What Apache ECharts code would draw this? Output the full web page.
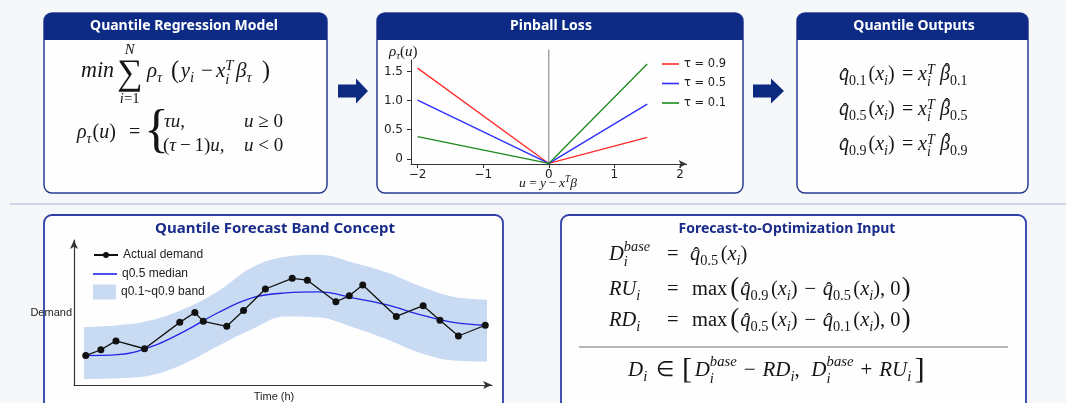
<!DOCTYPE html>
<html>
<head>
<meta charset="utf-8">
<script src="https://cdn.jsdelivr.net/npm/echarts@6/dist/echarts.min.js"></script>
<style>
  html, body { margin: 0; padding: 0; background: #f6f7f9; }
  #chart { width: 1066px; height: 403px; }
</style>
</head>
<body>
<div id="chart"></div>
<script>
// ---- Pinball loss panel ----
const pinballSeriesNames = ['τ = 0.9', 'τ = 0.5', 'τ = 0.1'];
const pinballU = [-2, 0, 1.5];
const pinballRed = [1.56, -0.08, 0.37];
const pinballBlue = [1.01, -0.08, 0.94];
const pinballGreen = [0.38, -0.08, 1.63];
const pinballXTicks = [-2, -1, 0, 1, 2];
const pinballYTicks = [0, 0.5, 1.0, 1.5];

// ---- Quantile forecast band panel ----
const bandHours = [0, 2, 4, 6, 8, 10, 12, 14, 16, 18, 20, 22, 24];
const bandLower = [4.1, 4.7, 6.8, 14.9, 27.0, 38.5, 47.3, 46.6, 39.9, 31.8, 22.3, 16.9, 16.2];
const bandUpper = [39.9, 41.2, 44.6, 52.7, 64.9, 81.1, 88.5, 89.9, 84.5, 77.7, 68.2, 60.8, 58.8];
const medianQ50 = [20.3, 20.9, 26.4, 37.2, 50.0, 60.1, 63.5, 64.2, 60.1, 55.4, 48.6, 43.2, 41.2];
const demandHours = [0.1, 1.0, 1.9, 3.6, 5.7, 6.6, 7.1, 8.5, 9.5, 10.8, 12.4, 13.3, 15.0, 15.8, 16.6, 18.6, 20.2, 21.2, 22.3, 23.9];
const demandValues = [20.3, 24.3, 30.4, 25.0, 43.2, 50.0, 43.9, 40.5, 51.4, 66.2, 73.6, 72.3, 57.4, 61.5, 68.9, 47.3, 54.7, 44.6, 33.8, 41.2];

// ---- panel titles ----
const headerTitles = ['Quantile Regression Model', 'Pinball Loss', 'Quantile Outputs'];
const lowerTitles = ['Quantile Forecast Band Concept', 'Forecast-to-Optimization Input'];

// ================= math typesetting helpers =================
const SERIF = '"Liberation Serif", "Times New Roman", serif';
const INK = '#161616';
const PANEL = '#fefefe';
const BASE_MID = 0.34;   // distance (em) from the em-box middle down to the baseline
const measureCtx = document.createElement('canvas').getContext('2d');
function fontOf(size, ital) { return (ital ? 'italic ' : '') + size.toFixed(2) + 'px ' + SERIF; }
function textWidth(t, size, ital) { measureCtx.font = fontOf(size, ital); return measureCtx.measureText(t).width; }
function txt(t, x, yb, size, ital, align) {
  return {
    type: 'text', x: x, y: yb - BASE_MID * size, z: 20, silent: true,
    style: {
      text: t, font: fontOf(size, ital), fill: INK,
      align: align || 'left', textAlign: align || 'left',
      verticalAlign: 'middle', textVerticalAlign: 'middle'
    }
  };
}
function I(t, o) { return Object.assign({ t: t, i: true }, o || {}); }
function R(t, o) { return Object.assign({ t: t, i: false }, o || {}); }
const qh = (n, o) => I('q', Object.assign({ hat: true, sub: [R(n)] }, o || {}));
const xi = (o) => I('x', Object.assign({ sub: [I('i')] }, o || {}));

// lays out a row of math tokens; returns the x where the row ends
function mrow(items, x, yb, size, out) {
  for (const it of items) {
    if (it.at !== undefined) x = it.at;
    x += (it.pre || 0) * size;
    const s = size * (it.s || 1);
    const y0 = yb + (it.dy || 0) * size;
    const w = textWidth(it.t, s, it.i);
    out.push(txt(it.t, x, y0, s, it.i));
    if (it.hat) out.push(txt('ˆ', x + w / 2 + (it.hx || 0.06) * size, yb - (it.hy || 0) * size, size * 0.95, false, 'center'));
    const ss = size * 0.7;
    if (it.over) { const ow = mrow(it.over, 0, 0, ss, []); mrow(it.over, x + (w - ow) / 2, yb - it.oy * size, ss, out); }
    if (it.under) { const uw = mrow(it.under, 0, 0, ss, []); mrow(it.under, x + (w - uw) / 2, yb + it.uy * size, ss, out); }
    let sw = 0;
    const sx = x + w + (it.k || 0) * size;
    if (it.sub) sw = Math.max(sw, mrow(it.sub, sx, yb + (it.sup ? 0.27 : 0.2) * size, ss, out) - sx);
    if (it.sup) sw = Math.max(sw, mrow(it.sup, sx + (it.supk || 0) * size, yb - (it.su || 0.36) * size, ss, out) - sx);
    x = x + w + (sw ? (it.k || 0) * size + sw : 0) + (it.post || 0) * size;
  }
  return x;
}

const g = [];   // graphic elements

// ---------- panel frames ----------
const NAVY = '#0d2b85';
function frame(x, y, w, h, stroke, lw) {
  g.push({ type: 'rect', z: 0, silent: true, shape: { x: x, y: y, width: w, height: h, r: 8 },
    style: { fill: PANEL, stroke: stroke, lineWidth: lw } });
}
function header(x, y, w, h, title, cx) {
  g.push({ type: 'rect', z: 1, silent: true, shape: { x: x, y: y, width: w, height: h, r: [8, 8, 0, 0] }, style: { fill: NAVY } });
  g.push({ type: 'text', z: 2, silent: true, x: cx, y: y + h / 2,
    style: { text: title, font: 'bold 14px "Noto Sans", "Open Sans", sans-serif', fill: '#ffffff',
      align: 'center', textAlign: 'center', verticalAlign: 'middle', textVerticalAlign: 'middle' } });
}
frame(44, 13, 283, 180, '#2b3b90', 1.5);
frame(377, 13, 366, 180, '#2b3b90', 1.5);
frame(797, 13, 231, 180, '#2b3b90', 1.5);
header(44, 13, 283, 27, headerTitles[0], 184);
header(377, 13, 366, 27, headerTitles[1], 551);
header(797, 13, 231, 27, headerTitles[2], 914);

frame(44, 215, 459, 230, '#2e3ea8', 1.8);
frame(561, 215, 465, 230, '#2e3ea8', 1.8);
function lowerTitle(t, cx, size) {
  g.push({ type: 'text', z: 2, silent: true, x: cx, y: 229,
    style: { text: t, font: 'bold ' + size + 'px "Noto Sans", "Open Sans", sans-serif', fill: '#1a2c8a',
      align: 'center', textAlign: 'center', verticalAlign: 'middle', textVerticalAlign: 'middle' } });
}
lowerTitle(lowerTitles[0], 275, 15);
lowerTitle(lowerTitles[1], 787, 14);

// separator between the two rows of panels
g.push({ type: 'line', z: 0, silent: true, shape: { x1: 10, y1: 204, x2: 1066, y2: 204 }, style: { stroke: '#a6b0d2', lineWidth: 1 } });

// flow arrows
function arrow(x0, xh, xt, cy) {
  g.push({ type: 'polygon', z: 1, silent: true,
    shape: { points: [[x0, cy - 6.5], [xh, cy - 6.5], [xh, cy - 12.5], [xt, cy], [xh, cy + 12.5], [xh, cy + 6.5], [x0, cy + 6.5]] },
    style: { fill: '#0b2a80' } });
}
arrow(338, 356, 368, 91);
arrow(753, 771, 784, 91);

// ---------- formulas: quantile regression model ----------
mrow([
  I('min', { at: 81, s: 1.05 }),
  R('∑', { at: 117, s: 1.7, dy: 0.38, over: [I('N')], oy: 1.15, under: [I('i'), R('=1')], uy: 1.22 }),
  I('ρ', { at: 147, sub: [I('τ')] }),
  R('(', { at: 171, s: 1.15, dy: 0.03 }),
  I('y', { pre: 0.08, sub: [I('i')] }),
  R('−', { at: 201 }),
  I('x', { at: 216, sub: [I('i')], sup: [I('T')] }),
  I('β', { at: 236, sub: [I('τ')] }),
  R(')', { at: 262, s: 1.15, dy: 0.03 })
], 0, 79, 21, g);

mrow([
  I('ρ', { at: 77, sub: [I('τ')] }), R('(', { pre: 0.05 }), I('u'), R(')'),
  R('=', { at: 129 }),
  R('{', { at: 144, s: 2.6, dy: 0.5 })
], 0, 140, 20, g);
mrow([I('τ', { at: 164 }), I('u'), R(','), I('u', { at: 244 }), R('≥', { pre: 0.25, post: 0.25 }), R('0')], 0, 128, 19, g);
mrow([R('(', { at: 163 }), I('τ'), R('−', { pre: 0.2, post: 0.2 }), R('1'), R(')'), I('u'), R(','),
  I('u', { at: 244 }), R('<', { pre: 0.25, post: 0.25 }), R('0')], 0, 152, 19, g);

// ---------- formulas: quantile outputs ----------
['0.1', '0.5', '0.9'].forEach((q, k) => {
  mrow([
    qh(q, { at: 839 }), R('(', { pre: 0.1 }), xi(), R(')'),
    R('=', { at: 902 }),
    I('x', { at: 918, sub: [I('i')], sup: [I('T')] }),
    I('β', { at: 940, hat: true, hy: 0.22, hx: 0.1, sub: [R(q)] })
  ], 0, 82 + 35 * k, 20, g);
});

// ---------- pinball axis captions ----------
mrow([I('ρ', { at: 389, sub: [I('τ')] }), R('('), I('u'), R(')')], 0, 57, 15, g);
mrow([I('u', { at: 519 }), R('=', { pre: 0.25, post: 0.25 }), I('y'), R('−', { pre: 0.2, post: 0.2 }),
  I('x', { sup: [I('T')] }), I('β')], 0, 188, 13.5, g);

// ---------- formulas: forecast-to-optimization input ----------
const Dbase = (o) => I('D', Object.assign({ sub: [I('i')], sup: [I('base')], su: 0.5 }, o || {}));
const OP = { pre: 0.33, post: 0.33 };
mrow([Dbase({ at: 609 }), R('=', { at: 667 }), qh('0.5', { at: 690 }), R('(', { pre: 0.12 }), xi(), R(')')], 0, 262, 20.5, g);
function maxRow(name, qa, qb, yb) {
  mrow([I('R', { at: 609 }), I(name, { sub: [I('i')] }), R('=', { at: 667 }), R('max', { at: 692 }),
    R('(', { s: 1.3, dy: 0.07, pre: 0.15, post: 0.05 }), qh(qa), R('(', { pre: 0.12 }), xi(), R(')'),
    R('−', OP), qh(qb), R('(', { pre: 0.12 }), xi(), R(')'), R(',', { post: 0.05 }), R('0', { pre: 0.2 }),
    R(')', { s: 1.3, dy: 0.07, pre: 0.06 })], 0, yb, 20.5, g);
}
maxRow('U', '0.9', '0.5', 297);
maxRow('D', '0.5', '0.1', 328);
g.push({ type: 'line', z: 2, silent: true, shape: { x1: 579, y1: 347, x2: 1008, y2: 347 }, style: { stroke: '#6f6f6f', lineWidth: 1 } });
mrow([I('D', { at: 628, sub: [I('i')] }), R('∈', { pre: 0.4, post: 0.4 }), R('[', { s: 1.45, dy: 0.1, post: 0.12 }),
  Dbase(), R('−', OP), I('R'), I('D', { sub: [I('i')] }), R(',', { post: 0.1 }),
  Dbase({ pre: 0.45 }), R('+', OP), I('R'), I('U', { sub: [I('i')] }),
  R(']', { s: 1.45, dy: 0.1, pre: 0.15 })], 0, 378, 21, g);

// ================= charts =================
const zip = (xs, ys) => xs.map((x, i) => [x, ys[i]]);
const AX = '#333333';
const pinLine = (name, ys, color) => ({
  name: name, type: 'line', xAxisIndex: 0, yAxisIndex: 0, data: zip(pinballU, ys),
  symbol: 'none', color: color, lineStyle: { color: color, width: 1.3 }, z: 5, silent: true
});
const legendText = { fontFamily: 'Liberation Sans', fontSize: 12, color: '#222', lineHeight: 14 };

const option = {
  animation: false,
  backgroundColor: '#f6f7f9',
  grid: [
    { left: 411, top: 60, width: 275.6, height: 104, containLabel: false },
    { left: 74, top: 240, width: 418, height: 148, containLabel: false }
  ],
  xAxis: [
    { gridIndex: 0, type: 'value', min: -2.1, max: 2.1, z: 4,
      axisLine: { show: true, onZero: false, symbol: ['none', 'arrow'], symbolSize: [6, 8], lineStyle: { color: AX, width: 1 } },
      axisTick: { show: true, customValues: pinballXTicks, length: 4, lineStyle: { color: AX } },
      axisLabel: { customValues: pinballXTicks, margin: 5, fontFamily: 'DejaVu Sans', fontSize: 12, color: '#222',
        formatter: v => (v < 0 ? '−' : '') + Math.abs(v) },
      splitLine: { show: false } },
    { gridIndex: 1, type: 'value', min: -0.6, max: 24.3, z: 4,
      axisLine: { show: true, onZero: false, symbol: ['none', 'arrow'], symbolSize: [6, 9], lineStyle: { color: AX, width: 1.2 } },
      axisTick: { show: false }, axisLabel: { show: false }, splitLine: { show: false },
      name: 'Time (h)', nameLocation: 'middle', nameGap: 6,
      nameTextStyle: { fontFamily: 'Liberation Sans', fontSize: 11, color: '#222', padding: [0, 18, 0, 0] } }
  ],
  yAxis: [
    { gridIndex: 0, type: 'value', min: -0.09, max: 1.70, z: 4,
      axisLine: { show: true, onZero: false, lineStyle: { color: AX, width: 1 } },
      axisTick: { show: true, customValues: pinballYTicks, length: 4, lineStyle: { color: AX } },
      axisLabel: { customValues: pinballYTicks, margin: 8, fontFamily: 'DejaVu Sans', fontSize: 12, color: '#222',
        formatter: v => (v === 0 ? '0' : v.toFixed(1)) },
      splitLine: { show: false } },
    { gridIndex: 1, type: 'value', min: 0, max: 100, z: 4,
      axisLine: { show: true, onZero: false, symbol: ['none', 'arrow'], symbolSize: [6, 9], lineStyle: { color: AX, width: 1.2 } },
      axisTick: { show: false }, axisLabel: { show: false }, splitLine: { show: false },
      name: 'Demand', nameLocation: 'middle', nameRotate: 0, nameGap: 2,
      nameTextStyle: { fontFamily: 'Liberation Sans', fontSize: 11, color: '#222' } }
  ],
  legend: [
    { data: pinballSeriesNames, orient: 'vertical', left: 657, top: 52, icon: 'rect',
      itemWidth: 17, itemHeight: 1.6, itemGap: 5.5,
      textStyle: { fontFamily: 'DejaVu Sans', fontSize: 11.5, color: '#222', lineHeight: 14 } },
    { data: ['Actual demand'], orient: 'vertical', left: 88, top: 243, itemWidth: 24, itemHeight: 7.5, textStyle: legendText },
    { data: ['q0.5 median'], orient: 'vertical', left: 88, top: 262, icon: 'rect', itemWidth: 24, itemHeight: 1.6, textStyle: legendText },
    { data: [{ name: 'q0.1~q0.9 band', icon: 'rect', itemStyle: { color: '#c9dbf2' } }], orient: 'vertical',
      left: 88, top: 279.5, itemWidth: 23, itemHeight: 15, textStyle: legendText }
  ],
  series: [
    pinLine(pinballSeriesNames[0], pinballRed, '#ff2a2a'),
    pinLine(pinballSeriesNames[1], pinballBlue, '#2c2cff'),
    pinLine(pinballSeriesNames[2], pinballGreen, '#1c8a1c'),
    { name: 'u = 0', type: 'line', xAxisIndex: 0, yAxisIndex: 0, data: [[0, -0.09], [0, 1.88]], clip: false,
      symbol: 'none', lineStyle: { color: '#7d7d7d', width: 1 }, z: 3, silent: true },
    // band: fill up to the q0.9 curve, then cover below the q0.1 curve with the panel colour
    { name: 'q0.1~q0.9 band', type: 'line', xAxisIndex: 1, yAxisIndex: 1, smooth: 0.4,
      data: zip(bandHours, bandUpper), symbol: 'none', color: '#c9dbf2',
      lineStyle: { width: 0, opacity: 0 }, areaStyle: { color: '#c9dbf2', opacity: 1 }, z: 2, silent: true },
    { name: 'band floor', type: 'line', xAxisIndex: 1, yAxisIndex: 1, smooth: 0.4,
      data: zip(bandHours, bandLower), symbol: 'none', color: PANEL,
      lineStyle: { width: 0, opacity: 0 }, areaStyle: { color: PANEL, opacity: 1 }, z: 3, silent: true },
    { name: 'q0.5 median', type: 'line', xAxisIndex: 1, yAxisIndex: 1, smooth: 0.4, data: zip(bandHours, medianQ50),
      symbol: 'none', color: '#2424e8', lineStyle: { color: '#2424e8', width: 1.3 }, z: 4, silent: true },
    { name: 'Actual demand', type: 'line', xAxisIndex: 1, yAxisIndex: 1, data: zip(demandHours, demandValues),
      symbol: 'circle', symbolSize: 7, color: '#111', itemStyle: { color: '#111' },
      lineStyle: { color: '#111', width: 1.3 }, z: 5, silent: true }
  ],
  graphic: { elements: g }
};

const chart = echarts.init(document.getElementById('chart'), null, { renderer: 'canvas' });
chart.setOption(option);
</script>
</body>
</html>
